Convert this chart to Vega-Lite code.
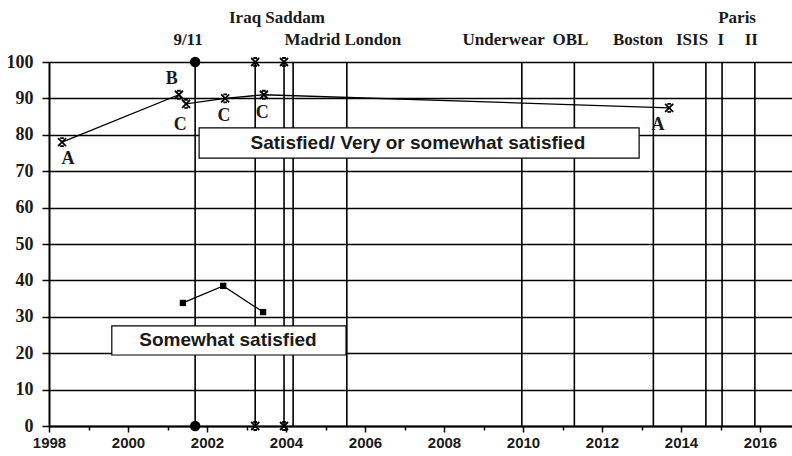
{
  "$schema": "https://vega.github.io/schema/vega-lite/v6.json",
  "width": 743,
  "height": 364,
  "autosize": {"type": "none"},
  "padding": {"left": 49, "top": 62, "right": 0, "bottom": 30},
  "background": "white",
  "config": {
    "view": {"stroke": null},
    "axisX": {
      "labelFont": "Liberation Sans",
      "labelFontWeight": "bold",
      "labelFontSize": 15,
      "labelColor": "#1a1a1a",
      "labelPadding": 3,
      "labelFlush": false,
      "labelOverlap": false,
      "domainColor": "black",
      "domainWidth": 2,
      "tickColor": "black",
      "tickWidth": 1.5,
      "grid": false
    },
    "axisY": {
      "labelFont": "Liberation Serif",
      "labelFontWeight": "bold",
      "labelFontSize": 18,
      "labelColor": "#1a1a1a",
      "labelPadding": 9,
      "labelFlush": false,
      "domainColor": "black",
      "domainWidth": 2,
      "tickColor": "black",
      "tickWidth": 1.5,
      "tickSize": 7,
      "grid": true,
      "gridColor": "black",
      "gridWidth": 1.5,
      "gridOpacity": 1
    }
  },
  "datasets": {
    "events": [
      {"event": "9/11", "date": 2001.70},
      {"event": "Iraq", "date": 2003.22},
      {"event": "Saddam", "date": 2003.95},
      {"event": "Madrid", "date": 2004.18},
      {"event": "London", "date": 2005.54},
      {"event": "Underwear", "date": 2009.97},
      {"event": "OBL", "date": 2011.30},
      {"event": "Boston", "date": 2013.30},
      {"event": "ISIS", "date": 2014.63},
      {"event": "Paris I", "date": 2015.04},
      {"event": "Paris II", "date": 2015.87}
    ],
    "eventEnds": [
      {"date": 2001.70, "y": 100, "marker": "circle"},
      {"date": 2001.70, "y": 0, "marker": "circle"},
      {"date": 2003.22, "y": 100, "marker": "asterisk"},
      {"date": 2003.22, "y": 0, "marker": "asterisk"},
      {"date": 2003.95, "y": 100, "marker": "asterisk"},
      {"date": 2003.95, "y": 0, "marker": "asterisk"}
    ],
    "eventLabels": [
      {"text": "9/11", "x": 2001.52, "y": 106},
      {"text": "Iraq Saddam", "x": 2003.77, "y": 112},
      {"text": "Madrid London", "x": 2005.44, "y": 106},
      {"text": "Underwear", "x": 2009.51, "y": 106},
      {"text": "OBL", "x": 2011.20, "y": 106},
      {"text": "Boston", "x": 2012.91, "y": 106},
      {"text": "ISIS", "x": 2014.28, "y": 106},
      {"text": "I", "x": 2015.01, "y": 106},
      {"text": "II", "x": 2015.78, "y": 106},
      {"text": "Paris", "x": 2015.42, "y": 112}
    ],
    "satisfied": [
      {"year": 1998.33, "value": 78},
      {"year": 2001.29, "value": 91},
      {"year": 2001.47, "value": 88.5},
      {"year": 2002.46, "value": 90},
      {"year": 2003.44, "value": 91},
      {"year": 2013.70, "value": 87.4}
    ],
    "pointLabels": [
      {"text": "A", "x": 1998.48, "y": 73.4},
      {"text": "B", "x": 2001.11, "y": 95.3},
      {"text": "C", "x": 2001.32, "y": 82.7},
      {"text": "C", "x": 2002.43, "y": 85.2},
      {"text": "C", "x": 2003.40, "y": 86.0},
      {"text": "A", "x": 2013.42, "y": 82.6}
    ],
    "somewhat": [
      {"year": 2001.39, "value": 33.8},
      {"year": 2002.41, "value": 38.5},
      {"year": 2003.42, "value": 31.3}
    ],
    "boxes": [
      {"x1": 2001.80, "x2": 2012.94, "y1": 73.6, "y2": 81.9, "tx": 2007.34, "ty": 77.7, "text": "Satisfied/ Very or somewhat satisfied"},
      {"x1": 1999.59, "x2": 2005.52, "y1": 19.5, "y2": 27.5, "tx": 2002.53, "ty": 23.6, "text": "Somewhat satisfied"}
    ]
  },
  "encoding": {
    "x": {
      "type": "quantitative",
      "scale": {"domain": [1998, 2016.81], "nice": false, "zero": false},
      "axis": {
        "title": null,
        "values": [1998,1999,2000,2001,2002,2003,2004,2005,2006,2007,2008,2009,2010,2011,2012,2013,2014,2015,2016],
        "labelExpr": "datum.value % 2 == 0 ? format(datum.value, 'd') : ''",
        "tickSize": {"condition": {"test": "datum.value % 2 == 0", "value": 6}, "value": 4}
      }
    },
    "y": {
      "type": "quantitative",
      "scale": {"domain": [0, 100], "nice": false},
      "axis": {
        "title": null,
        "values": [0,10,20,30,40,50,60,70,80,90,100]
      }
    }
  },
  "layer": [
    {
      "data": {"name": "events"},
      "mark": {"type": "rule", "color": "black", "strokeWidth": 1.6},
      "encoding": {
        "x": {"field": "date"},
        "y": {"datum": 0},
        "y2": {"datum": 100}
      }
    },
    {
      "data": {"name": "eventLabels"},
      "mark": {"type": "text", "font": "Liberation Serif", "fontWeight": "bold", "fontSize": 17, "color": "#1a1a1a", "baseline": "middle", "align": "center"},
      "encoding": {
        "x": {"field": "x"},
        "y": {"field": "y"},
        "text": {"field": "text"}
      }
    },
    {
      "data": {"name": "boxes"},
      "mark": {"type": "rect", "fill": "white", "stroke": "black", "strokeWidth": 1.2},
      "encoding": {
        "x": {"field": "x1"},
        "x2": {"field": "x2"},
        "y": {"field": "y1"},
        "y2": {"field": "y2"}
      }
    },
    {
      "data": {"name": "boxes"},
      "mark": {"type": "text", "font": "Liberation Sans", "fontWeight": "bold", "fontSize": 19, "color": "#1a1a1a", "baseline": "middle", "align": "center"},
      "encoding": {
        "x": {"field": "tx"},
        "y": {"field": "ty"},
        "text": {"field": "text"}
      }
    },
    {
      "data": {"name": "satisfied"},
      "mark": {"type": "line", "color": "black", "strokeWidth": 1.3},
      "encoding": {
        "x": {"field": "year"},
        "y": {"field": "value"}
      }
    },
    {
      "data": {"name": "satisfied"},
      "mark": {"type": "point", "shape": "M-1,-1L1,1M1,-1L-1,1M-0.45,-1L0.45,-1M-0.45,1L0.45,1", "filled": false, "stroke": "black", "strokeWidth": 1.8, "size": 64, "opacity": 1},
      "encoding": {
        "x": {"field": "year"},
        "y": {"field": "value"}
      }
    },
    {
      "data": {"name": "pointLabels"},
      "mark": {"type": "text", "font": "Liberation Serif", "fontWeight": "bold", "fontSize": 18, "color": "#1a1a1a", "baseline": "middle", "align": "center"},
      "encoding": {
        "x": {"field": "x"},
        "y": {"field": "y"},
        "text": {"field": "text"}
      }
    },
    {
      "data": {"name": "somewhat"},
      "mark": {"type": "line", "color": "black", "strokeWidth": 1.3},
      "encoding": {
        "x": {"field": "year"},
        "y": {"field": "value"}
      }
    },
    {
      "data": {"name": "somewhat"},
      "mark": {"type": "point", "shape": "square", "filled": true, "color": "black", "size": 40, "opacity": 1},
      "encoding": {
        "x": {"field": "year"},
        "y": {"field": "value"}
      }
    },
    {
      "data": {"name": "eventEnds"},
      "transform": [{"filter": "datum.marker == 'circle'"}],
      "mark": {"type": "point", "shape": "circle", "filled": true, "color": "black", "size": 110, "opacity": 1, "clip": false},
      "encoding": {
        "x": {"field": "date"},
        "y": {"field": "y"}
      }
    },
    {
      "data": {"name": "eventEnds"},
      "transform": [{"filter": "datum.marker == 'asterisk'"}],
      "mark": {"type": "point", "shape": "M-1,-1L1,1M1,-1L-1,1M-0.45,-1L0.45,-1M-0.45,1L0.45,1", "filled": false, "stroke": "black", "strokeWidth": 1.8, "size": 64, "opacity": 1},
      "encoding": {
        "x": {"field": "date"},
        "y": {"field": "y"}
      }
    }
  ]
}
